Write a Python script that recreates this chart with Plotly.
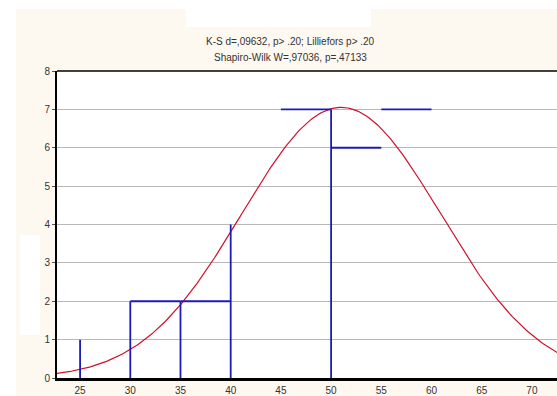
import numpy as np
import plotly.graph_objects as go

# --- data ---
bin_width = 5
# visible vertical bar edges (x position, height)
edge_x = [25, 30, 35, 40, 50]
edge_h = [1, 2, 2, 4, 7]
# visible bar tops (bin left edge, count)
top_left = [30, 35, 45, 50, 55]
top_count = [2, 2, 7, 6, 7]
# fitted normal curve parameters
fit_mean = 51.0
fit_sd = 9.9
fit_n = 35
x_ticks = [25, 30, 35, 40, 45, 50, 55, 60, 65, 70]
y_ticks = [0, 1, 2, 3, 4, 5, 6, 7, 8]
title1 = "K-S d=,09632, p> .20; Lilliefors p> .20"
title2 = "Shapiro-Wilk W=,97036, p=,47133"

# build segment paths from the data
sx, sy = [], []
for x, h in zip(edge_x, edge_h):
    sx += [x, x, None]
    sy += [0, h, None]
for l, c in zip(top_left, top_count):
    sx += [l, l + bin_width, None]
    sy += [c, c, None]

cx = np.linspace(22, 73, 300)
cy = fit_n * bin_width * np.exp(-0.5 * ((cx - fit_mean) / fit_sd) ** 2) / (fit_sd * np.sqrt(2 * np.pi))

fig = go.Figure()
fig.add_trace(go.Scatter(x=cx, y=cy, mode="lines",
                         line=dict(color="#d0102a", width=1.2), hoverinfo="skip"))
fig.add_trace(go.Scatter(x=sx, y=sy, mode="lines",
                         line=dict(color="#1c1cb4", width=1.8), hoverinfo="skip"))

font = dict(family="Liberation Sans, Arial, sans-serif", size=10, color="#333333")
fig.update_layout(
    width=557, height=396,
    margin=dict(l=57, r=0, t=71, b=18),
    paper_bgcolor="#fdf9f0", plot_bgcolor="white",
    showlegend=False,
    font=font,
    xaxis=dict(range=[22.7, 72.5], tickvals=x_ticks, showgrid=False, zeroline=False,
               showline=True, linecolor="black", linewidth=3, mirror=False,
               ticks="", tickfont=dict(size=10, color="#333333"), ticklabelstandoff=1),
    yaxis=dict(range=[0, 8], tickvals=y_ticks, showgrid=True, gridcolor="#b8b8b8",
               gridwidth=1, zeroline=False, showline=True, linecolor="black",
               linewidth=2, ticks="outside", ticklen=3, tickcolor="#555555",
               tickfont=dict(size=10, color="#333333")),
    annotations=[
        dict(text=title1, x=0.466, y=1 + 29 / 307, xref="paper", yref="paper",
             showarrow=False, font=dict(size=10, color="#333333"), yanchor="middle"),
        dict(text=title2, x=0.466, y=1 + 13 / 307, xref="paper", yref="paper",
             showarrow=False, font=dict(size=10, color="#333333"), yanchor="middle"),
    ],
    shapes=[
        # top border of plot area
        dict(type="line", xref="paper", yref="paper", x0=0, x1=1, y0=1, y1=1,
             line=dict(color="black", width=1.5)),
        # white areas of the page
        dict(type="rect", xref="paper", yref="paper", x0=-0.12, x1=1.0,
             y0=1 + 62 / 307, y1=1 + 71 / 307, fillcolor="white", line=dict(width=0)),
        dict(type="rect", xref="paper", yref="paper", x0=-0.12, x1=-0.082,
             y0=-18 / 307, y1=1 + 71 / 307, fillcolor="white", line=dict(width=0)),
        dict(type="rect", xref="paper", yref="paper", x0=(186 - 57) / 500, x1=(371 - 57) / 500,
             y0=1 + 44 / 307, y1=1 + 62 / 307, fillcolor="white", line=dict(width=0)),
        dict(type="rect", xref="paper", yref="paper", x0=(20 - 57) / 500, x1=(40 - 57) / 500,
             y0=(378 - 335) / 307, y1=(378 - 235) / 307, fillcolor="white", line=dict(width=0)),
    ],
)
fig.write_html("out.html", config={"displayModeBar": False},
               post_script="document.body.style.margin='0';document.body.style.overflow='hidden';")
